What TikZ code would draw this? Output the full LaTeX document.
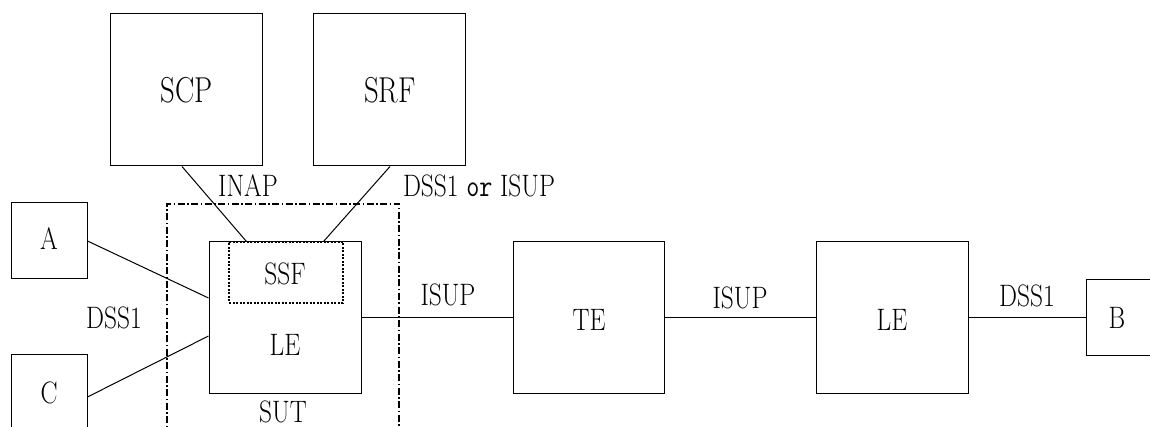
\documentclass[tikz,border=0pt]{standalone}
\usepackage{graphicx}
\newcommand{\tx}[1]{\scalebox{0.82}[1]{\fontsize{31}{31}\selectfont #1}}
\newcommand{\bigtx}[1]{\scalebox{0.8}[1]{\fontsize{36}{36}\selectfont #1}}
\begin{document}
\begin{tikzpicture}[x=1pt,y=-1pt,
  box/.style={draw, line width=1pt, inner sep=0pt, minimum width=#1, minimum height=#1},
  box/.default=152pt,
  lbl/.style={inner sep=0pt},
  conn/.style={line width=1pt},
  trunk/.style={line width=1.6pt},
  sutline/.style={line width=1.4pt, dash pattern=on 7pt off 2.5pt on 1.5pt off 2.5pt},
  ssfline/.style={line width=1.2pt, dash pattern=on 2pt off 1.5pt}]
\useasboundingbox (0,0) rectangle (1150,427);
\clip (0,0) rectangle (1150,427);
% boxes
\node[box] (scp) at (186,90) {};
\node[box] (srf) at (389,90) {};
\node[box=76pt] (a) at (49,241) {};
\node[box=76pt] (c) at (49,392) {};
\node[draw, line width=1pt, minimum width=152pt, minimum height=151pt, inner sep=0pt] (le) at (285,317.5) {};
\node[draw, ssfline, minimum width=114pt, minimum height=61pt, inner sep=0pt] (ssf) at (286,272.5) {};
\node[draw, line width=1pt, minimum width=151pt, minimum height=151pt, inner sep=0pt] (te) at (588.5,317.5) {};
\node[box] (le2) at (892,317.5) {};
\node[box=76pt] (b) at (1124,317.5) {};
% SUT boundary
\draw[sutline] (167,450) -- (167,204) -- (399,204) -- (399,450);
% texts in boxes
\node[lbl] (tscp) at (187,90) {\bigtx{SCP}};
\node[lbl] (tsrf) at (390,90) {\bigtx{SRF}};
\node[lbl] (ta) at (49,239) {\tx{A}};
\node[lbl] (tc) at (49,393) {\tx{C}};
\node[lbl] (tssf) at (285,274) {\tx{SSF}};
\node[lbl] (tle) at (285,345) {\tx{LE}};
\node[lbl] (tte) at (589,320) {\tx{TE}};
\node[lbl] (tle2) at (892,320) {\tx{LE}};
\node[lbl] (tb) at (1117,318) {\tx{B}};
% connectors
\draw[conn] ([xshift=-4pt]scp.south) -- ([xshift=18pt]ssf.north west);
\draw[conn] ([xshift=1pt]srf.south) -- ([xshift=-20pt]ssf.north east);
\draw[conn] (a.east) -- ([yshift=19.5pt]le.west);
\draw[conn] ([yshift=-5pt]c.east) -- ([yshift=-18.5pt]le.west);
\draw[trunk] (le.east) -- (te.west);
\draw[trunk] (te.east) -- (le2.west);
\draw[trunk] (le2.east) -- (b.west);
% labels
\node[lbl] (linap) at (248,186) {\tx{INAP}};
\node[lbl] (ldss) at (479,186) {\tx{DSS1\hspace{0.3em}{\ttfamily or}\hspace{0.3em}ISUP}};
\node[lbl] (lisup1) at (448,295) {\tx{ISUP}};
\node[lbl] (lisup2) at (740,298) {\tx{ISUP}};
\node[lbl] (ldssb) at (1027,296) {\tx{DSS1}};
\node[lbl] (ldssa) at (114,318) {\tx{DSS1}};
\node[lbl] (lsut) at (283,412) {\tx{SUT}};
\end{tikzpicture}
\end{document}
